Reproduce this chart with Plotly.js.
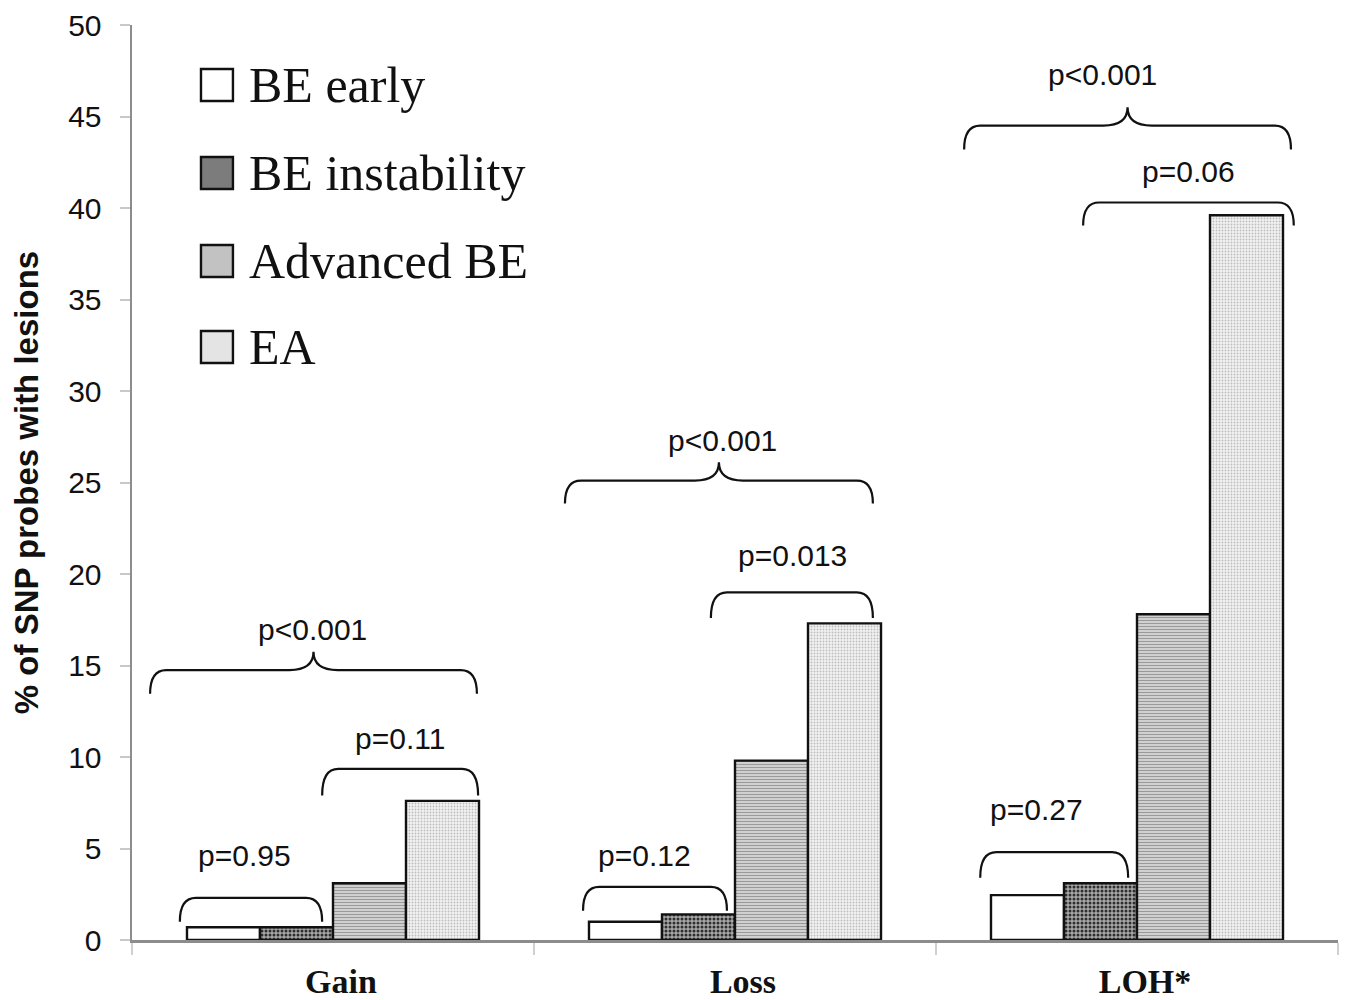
<!DOCTYPE html>
<html>
<head>
<meta charset="utf-8">
<script src="https://cdn.plot.ly/plotly-3.0.1.min.js"></script>
<style>html,body{margin:0;padding:0;background:#fff;}</style>
</head>
<body>
<div id="chart" style="width:1345px;height:1000px;"></div>
<script>
// ---- data ----
const categories = ["Gain", "Loss", "LOH*"];
const seriesNames = ["BE early", "BE instability", "Advanced BE", "EA"];
const beEarly = [0.7, 1.0, 2.45];
const beInstability = [0.7, 1.4, 3.1];
const advancedBE = [3.1, 9.8, 17.8];
const ea = [7.6, 17.3, 39.6];
const pLabels = ["p=0.95", "p=0.11", "p<0.001", "p=0.12", "p=0.013", "p<0.001", "p=0.27", "p=0.06", "p<0.001"];

// ---- styles ----
const seriesValues = [beEarly, beInstability, advancedBE, ea];
const patterns = [
  {shape: "", fgcolor: "#ffffff", bgcolor: "#ffffff"},
  {shape: ".", fgcolor: "#2e2e2e", bgcolor: "#a8a8a8", size: 4, solidity: 0.45, fillmode: "replace"},
  {shape: "-", fgcolor: "#9a9a9a", bgcolor: "#dcdcdc", size: 3, solidity: 0.45, fillmode: "replace"},
  {shape: ".", fgcolor: "#bdbdbd", bgcolor: "#f3f3f3", size: 3, solidity: 0.3, fillmode: "replace"}
];
const swatchColors = ["#ffffff", "#7c7c7c", "#c2c2c2", "#e4e4e4"];

const traces = seriesValues.map((vals, i) => ({
  type: "bar",
  name: seriesNames[i],
  x: categories,
  y: vals,
  marker: {
    color: swatchColors[i],
    line: {color: "#111111", width: 2.4},
    pattern: patterns[i]
  },
  showlegend: false,
  hoverinfo: "x+y+name"
}));

// bracket layout (category-index units, y data units)
// [categoryIndex, xOffset0, xOffset1, yTop, yEnd, cuspY|null, textXOffset, textY]
const brackets = [
  [0, -0.381, -0.027, 2.3, 1.0, null, -0.219, 4.6],
  [0, -0.027, 0.361, 9.35, 7.9, null, 0.167, 11.0],
  [0, -0.455, 0.358, 14.75, 13.45, 15.75, -0.052, 16.95],
  [1, -0.378, -0.020, 2.9, 1.6, null, -0.224, 4.6],
  [1, -0.060, 0.343, 19.0, 17.6, null, 0.144, 21.0],
  [1, -0.423, 0.343, 25.1, 23.85, 26.1, -0.032, 27.3],
  [2, -0.390, -0.022, 4.8, 3.4, null, -0.251, 7.15],
  [2, -0.134, 0.390, 40.3, 39.05, null, 0.127, 42.0],
  [2, -0.430, 0.383, 44.5, 43.2, 45.5, -0.085, 47.3]
];

function bracePath(x0, x1, yTop, yEnd, cusp) {
  const rx = 0.04;
  let p = `M${x0},${yEnd} Q${x0},${yTop} ${x0 + rx},${yTop}`;
  if (cusp !== null) {
    const xm = (x0 + x1) / 2, cx = 0.06;
    p += ` L${xm - cx},${yTop} Q${xm},${yTop} ${xm},${cusp} Q${xm},${yTop} ${xm + cx},${yTop}`;
  }
  p += ` L${x1 - rx},${yTop} Q${x1},${yTop} ${x1},${yEnd}`;
  return p;
}

const shapes = [];
const annotations = [];
brackets.forEach((b, i) => {
  const [c, o0, o1, yTop, yEnd, cusp, tx, ty] = b;
  shapes.push({
    type: "path", xref: "x", yref: "y",
    path: bracePath(c + o0, c + o1, yTop, yEnd, cusp),
    line: {color: "#111111", width: 2.2}
  });
  annotations.push({
    xref: "x", yref: "y", x: c + tx, y: ty, text: pLabels[i], showarrow: false,
    font: {family: "Liberation Sans, Arial, sans-serif", size: 30, color: "#111111"},
    xanchor: "center", yanchor: "middle"
  });
});

// manual legend (paper coords)
const legendRows = [0.9344, 0.8383, 0.7421, 0.6481];
seriesNames.forEach((n, i) => {
  const yc = legendRows[i];
  shapes.push({
    type: "rect", xref: "paper", yref: "paper",
    x0: 0.0572, x1: 0.0837, y0: yc - 0.0175, y1: yc + 0.0175,
    fillcolor: swatchColors[i], line: {color: "#111111", width: 2.4}
  });
  annotations.push({
    xref: "paper", yref: "paper", x: 0.095, y: yc, text: n, showarrow: false,
    xanchor: "left", yanchor: "middle",
    font: {family: "Liberation Serif, Times New Roman, serif", size: 50, color: "#111111"}
  });
});

const layout = {
  width: 1345, height: 1000,
  margin: {l: 132, r: 7, t: 25, b: 60},
  paper_bgcolor: "#ffffff", plot_bgcolor: "#ffffff",
  barmode: "group", bargap: 0.2736, bargroupgap: 0,
  xaxis: {
    type: "category", range: [-0.5, 2.5],
    tickson: "boundaries", ticks: "outside", ticklen: 12, tickwidth: 2, tickcolor: "#d0d0d0",
    showline: true, linecolor: "#8c8c8c", linewidth: 2.5,
    showgrid: false, zeroline: false,
    tickfont: {family: "Liberation Serif, Times New Roman, serif", size: 34, color: "#111111", weight: "bold"},
    ticklabelstandoff: 10,
    ticklabelshift: 8
  },
  yaxis: {
    range: [0, 50], dtick: 5, tick0: 0,
    ticks: "outside", ticklen: 10, tickwidth: 2, tickcolor: "#c8c8c8",
    showline: true, linecolor: "#8c8c8c", linewidth: 2.5,
    showgrid: false, zeroline: false,
    tickfont: {family: "Liberation Sans, Arial, sans-serif", size: 30, color: "#111111"},
    ticklabelstandoff: 12,
    automargin: true,
    title: {text: "% of SNP probes with lesions", standoff: 20,
      font: {family: "Liberation Sans, Arial, sans-serif", size: 33, color: "#111111", weight: "bold"}}
  },
  shapes: shapes,
  annotations: annotations,
  showlegend: false
};

Plotly.newPlot("chart", traces, layout, {displayModeBar: false, staticPlot: true});
</script>
</body>
</html>
